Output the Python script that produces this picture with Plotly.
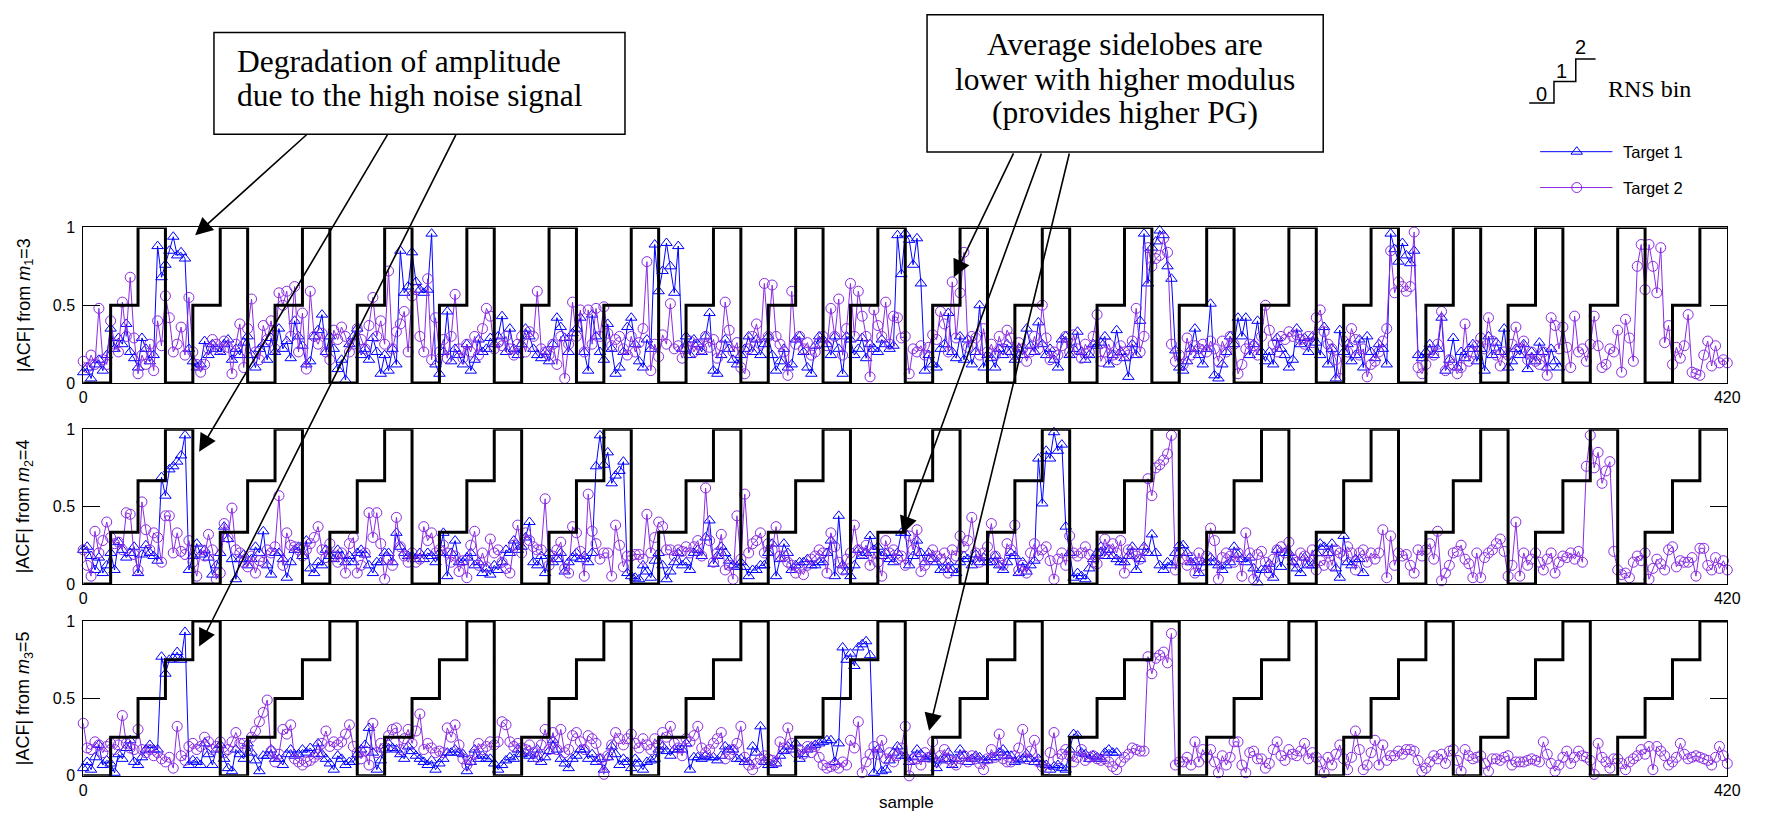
import plotly.graph_objects as go

# ---------------- data ----------------
sample_ticks = [0, 420]
sample_ticktext = ["0", "420"]
acf_ticks = [0, 0.5, 1]
acf_ticktext = ["0", "0.5", "1"]
bin_width = 7  # samples per RNS bin step
moduli = [3, 4, 5]

# RNS bin index per step (read from the staircase)
rns_bin_m1 = [0, 1, 2, 0, 1, 2, 0, 1, 2, 0, 1, 2, 0, 1, 2, 0, 1, 2, 0, 1, 2, 0, 1, 2, 0, 1, 2, 0, 1, 2,
              0, 1, 2, 0, 1, 2, 0, 1, 2, 0, 1, 2, 0, 1, 2, 0, 1, 2, 0, 1, 2, 0, 1, 2, 0, 1, 2, 0, 1, 2]
rns_bin_m2 = [0, 1, 2, 3, 0, 1, 2, 3, 0, 1, 2, 3, 0, 1, 2, 3, 0, 1, 2, 3, 0, 1, 2, 3, 0, 1, 2, 3, 0, 1,
              2, 3, 0, 1, 2, 3, 0, 1, 2, 3, 0, 1, 2, 3, 0, 1, 2, 3, 0, 1, 2, 3, 0, 1, 2, 3, 0, 1, 2, 3]
rns_bin_m3 = [0, 1, 2, 3, 4, 0, 1, 2, 3, 4, 0, 1, 2, 3, 4, 0, 1, 2, 3, 4, 0, 1, 2, 3, 4, 0, 1, 2, 3, 4,
              0, 1, 2, 3, 4, 0, 1, 2, 3, 4, 0, 1, 2, 3, 4, 0, 1, 2, 3, 4, 0, 1, 2, 3, 4, 0, 1, 2, 3, 4]

# |ACF| values in hundredths, one per sample starting at sample 0
acf_m1_target1 = [
    7, 10, 3, 12, 15, 8, 18, 35, 22, 29, 25, 38, 20, 16, 10, 29, 22, 14, 18, 88, 68,
    76, 85, 94, 82, 84, 80, 22, 14, 10, 12, 27, 18, 25, 22, 20, 25, 28, 15, 22, 18, 26,
    30, 18, 10, 22, 25, 15, 29, 20, 35, 22, 27, 16, 40, 30, 24, 12, 14, 30, 34, 44, 20,
    30, 22, 9, 15, 2, 25, 30, 35, 18, 22, 15, 29, 20, 6, 18, 8, 22, 12, 85, 58, 62,
    84, 65, 60, 58, 60, 96, 12, 6, 20, 46, 14, 22, 18, 12, 25, 8, 15, 28, 20, 22, 29,
    25, 30, 43, 20, 35, 22, 18, 25, 35, 30, 22, 18, 16, 20, 14, 25, 42, 36, 29, 20, 32,
    35, 42, 20, 8, 44, 30, 20, 15, 38, 22, 6, 10, 20, 36, 42, 25, 14, 10, 28, 22, 89,
    59, 72, 90, 75, 58, 88, 22, 30, 18, 28, 25, 20, 30, 45, 8, 6, 18, 28, 22, 15, 12,
    18, 22, 30, 20, 28, 18, 25, 30, 18, 8, 14, 22, 10, 12, 28, 30, 20, 10, 6, 24, 30,
    28, 25, 18, 30, 22, 6, 30, 28, 18, 22, 29, 16, 25, 22, 20, 28, 25, 22, 24, 95, 70,
    96, 92, 76, 93, 64, 8, 18, 12, 10, 22, 25, 45, 20, 16, 30, 15, 28, 12, 20, 50, 10,
    18, 16, 10, 22, 18, 25, 20, 15, 22, 18, 35, 24, 20, 39, 25, 18, 22, 15, 10, 28, 30,
    18, 22, 33, 20, 15, 18, 25, 24, 26, 30, 12, 18, 34, 20, 16, 4, 25, 18, 40, 96, 64,
    87, 91, 98, 95, 75, 67, 21, 10, 8, 14, 22, 35, 18, 12, 22, 51, 5, 3, 12, 20, 30,
    25, 42, 30, 42, 18, 25, 40, 20, 14, 20, 12, 29, 22, 18, 10, 15, 35, 25, 29, 20, 30,
    26, 18, 36, 12, 22, 3, 34, 20, 25, 14, 18, 28, 10, 30, 20, 16, 25, 22, 12, 96, 86,
    78, 90, 82, 77, 85, 18, 16, 20, 25, 18, 22, 42, 8, 15, 29, 10, 20, 16, 22, 25, 14,
    22, 8, 30, 18, 26, 20, 35, 10, 14, 22, 18, 25, 9, 20, 14, 26, 20, 10, 22, 14, 10,
]
acf_m1_target2 = [
    14, 10, 18, 12, 48, 15, 12, 40, 25, 20, 52, 30, 68, 29, 6, 18, 12, 25, 8, 40, 24,
    56, 42, 20, 25, 36, 18, 55, 20, 12, 7, 12, 22, 28, 25, 22, 27, 23, 6, 25, 38, 10,
    35, 54, 20, 15, 37, 28, 40, 22, 58, 50, 59, 30, 62, 20, 45, 9, 59, 30, 25, 32, 20,
    15, 34, 28, 36, 30, 20, 25, 35, 28, 22, 37, 55, 30, 40, 25, 72, 22, 33, 38, 46, 20,
    56, 60, 30, 20, 67, 15, 42, 20, 28, 16, 30, 57, 22, 16, 25, 20, 30, 18, 35, 48, 43,
    22, 26, 24, 30, 22, 18, 25, 30, 20, 33, 30, 59, 22, 20, 18, 25, 12, 30, 3, 25, 52,
    30, 47, 20, 47, 25, 48, 30, 49, 32, 24, 28, 30, 22, 18, 30, 20, 26, 35, 78, 8, 25,
    17, 31, 25, 51, 22, 24, 16, 22, 27, 20, 25, 22, 30, 23, 28, 16, 24, 52, 34, 20, 26,
    10, 6, 22, 30, 38, 25, 64, 30, 63, 30, 25, 20, 5, 59, 25, 30, 22, 26, 18, 20, 26,
    30, 24, 48, 30, 54, 18, 35, 64, 30, 59, 43, 30, 4, 47, 37, 30, 52, 25, 43, 42, 29,
    30, 6, 22, 20, 24, 18, 23, 31, 28, 46, 38, 20, 65, 29, 58, 84, 23, 30, 29, 18, 35,
    20, 25, 18, 30, 22, 34, 29, 18, 26, 22, 14, 20, 30, 22, 50, 29, 15, 20, 18, 24, 30,
    20, 31, 22, 16, 25, 20, 30, 44, 14, 20, 25, 18, 15, 24, 20, 18, 27, 48, 20, 30, 87,
    75, 80, 82, 93, 84, 25, 14, 18, 12, 29, 18, 24, 22, 25, 20, 27, 22, 14, 27, 20, 30,
    25, 6, 12, 22, 25, 24, 18, 30, 50, 34, 25, 20, 30, 28, 33, 30, 31, 28, 25, 30, 26,
    42, 47, 33, 25, 22, 15, 3, 27, 20, 35, 28, 18, 22, 4, 12, 14, 20, 27, 35, 85, 58,
    65, 62, 59, 62, 97, 10, 6, 12, 20, 18, 25, 46, 8, 15, 12, 6, 10, 38, 14, 20, 24,
    29, 22, 42, 27, 18, 11, 20, 18, 25, 36, 22, 27, 15, 20, 14, 12, 20, 5, 42, 37, 22,
    36, 23, 10, 43, 20, 22, 14, 25, 43, 24, 10, 12, 22, 20, 34, 7, 41, 29, 14, 75, 89,
    60, 89, 75, 58, 87, 26, 37, 12, 23, 16, 24, 44, 7, 6, 5, 18, 27, 11, 24, 13, 15,
    13,
]
acf_m2_target1 = [
    22, 24, 18, 9, 17, 7, 12, 20, 9, 27, 22, 17, 20, 24, 7, 19, 25, 20, 18, 15, 69,
    57, 74, 76, 79, 83, 96, 9, 18, 26, 19, 22, 17, 6, 12, 20, 37, 29, 16, 3, 16, 19,
    12, 16, 24, 20, 34, 12, 6, 20, 20, 16, 4, 14, 22, 24, 18, 28, 10, 7, 14, 12, 22,
    18, 16, 22, 18, 14, 18, 14, 20, 22, 19, 12, 7, 14, 14, 20, 20, 14, 33, 24, 20, 18,
    18, 16, 20, 16, 20, 18, 14, 20, 33, 5, 20, 28, 14, 14, 17, 20, 12, 14, 7, 10, 6,
    12, 9, 14, 22, 20, 28, 22, 24, 30, 40, 14, 12, 18, 7, 20, 14, 16, 20, 8, 14, 17,
    20, 16, 18, 14, 20, 76, 96, 77, 85, 65, 70, 73, 79, 7, 5, 4, 3, 12, 8, 4, 15,
    20, 12, 3, 8, 14, 20, 12, 14, 9, 20, 22, 18, 30, 41, 13, 18, 24, 20, 15, 12, 11,
    14, 11, 5, 9, 9, 12, 12, 20, 26, 5, 16, 26, 20, 9, 12, 14, 14, 16, 12, 12, 14,
    14, 20, 28, 5, 44, 12, 8, 5, 12, 22, 18, 20, 31, 22, 24, 18, 20, 16, 14, 20, 33,
    33, 12, 18, 28, 20, 14, 20, 16, 14, 9, 9, 14, 9, 7, 14, 18, 16, 12, 19, 14, 17,
    14, 14, 18, 12, 9, 14, 20, 18, 7, 14, 8, 12, 15, 81, 52, 86, 81, 98, 86, 90, 37,
    20, 4, 7, 5, 3, 10, 16, 20, 24, 18, 22, 18, 16, 14, 14, 18, 24, 9, 16, 24, 20,
    32, 20, 12, 9, 14, 12, 20, 25, 25, 20, 14, 14, 7, 14, 14, 17, 14, 12, 9, 12, 14,
    24, 19, 16, 14, 17, 10, 1, 9, 9, 13, 4, 22, 11, 20, 20, 14, 10, 7, 17, 12, 12,
    20, 26, 24, 20, 26, 10, 4, 31, 14, 12, 16, 16, 7,
]
acf_m2_target2 = [
    22, 12, 5, 34, 20, 28, 40, 30, 26, 27, 22, 46, 45, 19, 9, 53, 35, 22, 33, 30, 14,
    44, 44, 20, 33, 21, 19, 28, 14, 5, 22, 18, 32, 22, 3, 7, 39, 30, 49, 22, 20, 14,
    11, 18, 7, 15, 14, 22, 20, 24, 57, 12, 33, 25, 24, 22, 18, 22, 26, 30, 37, 22, 17,
    26, 18, 14, 20, 7, 26, 30, 7, 12, 20, 46, 30, 46, 26, 3, 16, 12, 43, 24, 18, 14,
    20, 14, 16, 37, 28, 33, 20, 22, 25, 20, 14, 18, 8, 15, 4, 25, 34, 12, 20, 11, 29,
    20, 22, 14, 10, 7, 25, 38, 20, 33, 28, 24, 22, 22, 55, 12, 18, 22, 27, 10, 7, 37,
    33, 21, 5, 58, 34, 26, 16, 20, 20, 5, 38, 25, 11, 18, 18, 19, 19, 16, 45, 20, 30,
    40, 37, 22, 22, 18, 22, 21, 24, 20, 24, 28, 18, 62, 28, 14, 20, 32, 9, 12, 3, 44,
    16, 58, 20, 26, 28, 33, 20, 26, 22, 37, 18, 18, 14, 12, 7, 10, 6, 12, 16, 18, 22,
    20, 7, 33, 24, 14, 9, 16, 20, 38, 22, 20, 25, 12, 20, 14, 5, 28, 20, 22, 16, 18,
    12, 31, 22, 35, 8, 12, 16, 22, 18, 16, 20, 7, 22, 18, 31, 24, 28, 43, 20, 14, 20,
    24, 39, 18, 14, 12, 26, 22, 38, 9, 12, 7, 20, 26, 18, 22, 24, 15, 3, 16, 20, 12,
    31, 20, 18, 20, 24, 19, 14, 13, 20, 29, 22, 26, 20, 28, 7, 22, 20, 18, 16, 22, 68,
    57, 75, 77, 80, 84, 96, 9, 20, 16, 12, 17, 7, 20, 12, 18, 36, 28, 3, 17, 20, 18,
    14, 20, 5, 33, 20, 3, 19, 21, 14, 7, 16, 22, 24, 20, 27, 16, 14, 20, 18, 14, 22,
    9, 15, 12, 20, 12, 22, 20, 18, 24, 20, 9, 20, 22, 14, 20, 16, 20, 35, 4, 31, 12,
    20, 18, 19, 12, 7, 22, 18, 22, 26, 16, 34, 2, 7, 12, 20, 21, 25, 16, 13, 4, 20,
    4, 17, 20, 22, 26, 29, 21, 5, 12, 40, 5, 20, 12, 16, 20, 14, 9, 16, 20, 7, 14,
    18, 17, 20, 16, 21, 14, 76, 96, 75, 85, 65, 73, 79, 21, 9, 6, 7, 4, 14, 18, 15,
    20, 3, 10, 16, 13, 9, 22, 24, 11, 15, 14, 14, 17, 5, 23, 23, 12, 9, 17, 10, 15,
    9,
]
acf_m3_target1 = [
    5, 9, 4, 12, 20, 7, 10, 8, 2, 14, 11, 18, 23, 9, 7, 12, 17, 20, 17, 17, 77,
    66, 75, 76, 80, 75, 93, 7, 10, 9, 7, 21, 14, 7, 17, 20, 11, 5, 3, 17, 14, 11,
    21, 15, 10, 3, 13, 13, 17, 11, 11, 7, 14, 17, 13, 14, 17, 15, 18, 14, 21, 14, 11,
    8, 4, 13, 11, 7, 9, 9, 14, 17, 20, 31, 15, 4, 10, 17, 21, 18, 17, 14, 11, 19,
    16, 13, 11, 9, 7, 10, 4, 8, 11, 15, 15, 17, 15, 14, 3, 9, 17, 11, 13, 11, 11,
    8, 4, 7, 10, 12, 11, 17, 14, 15, 13, 11, 17, 9, 12, 16, 23, 17, 11, 8, 5, 11,
    13, 17, 17, 11, 14, 9, 11, 4, 12, 19, 14, 7, 11, 9, 5, 11, 8, 4, 9, 10, 11,
    17, 19, 16, 13, 17, 17, 17, 21, 4, 12, 12, 11, 13, 12, 12, 10, 13, 19, 17, 17, 11,
    11, 9, 9, 19, 15, 32, 9, 7, 7, 8, 13, 16, 19, 17, 21, 11, 14, 17, 19, 20, 21,
    22, 23, 23, 9, 21, 83, 75, 79, 71, 83, 85, 87, 78, 2, 17, 3, 4, 10, 15, 19, 13,
    13, 9, 12, 17, 14, 11, 12, 13, 5, 10, 11, 15, 7, 11, 17, 13, 9, 11, 13, 12, 10,
    10, 12, 12, 15, 17, 13, 13, 9, 10, 11, 14, 11, 9, 11, 8, 7, 4, 6, 7, 5, 4,
    17, 27, 26, 15, 14, 11, 13, 12, 11, 15, 17, 15, 15,
]
acf_m3_target2 = [
    34, 18, 17, 22, 20, 15, 19, 21, 17, 20, 39, 21, 18, 17, 30, 17, 15, 17, 13, 15, 11,
    9, 12, 5, 32, 13, 10, 19, 21, 17, 19, 25, 22, 17, 19, 22, 15, 17, 22, 28, 21, 21,
    17, 25, 29, 35, 41, 49, 16, 9, 14, 30, 27, 33, 11, 9, 7, 9, 10, 12, 14, 21, 29,
    19, 22, 20, 22, 27, 33, 19, 15, 11, 16, 7, 34, 15, 21, 18, 26, 30, 31, 17, 24, 30,
    21, 29, 40, 17, 21, 18, 15, 16, 15, 31, 25, 33, 20, 11, 7, 10, 14, 21, 17, 19, 22,
    20, 22, 35, 33, 22, 19, 21, 18, 17, 20, 15, 12, 20, 30, 17, 28, 17, 30, 15, 17, 26,
    28, 22, 17, 26, 24, 21, 11, 1, 13, 20, 28, 24, 20, 24, 27, 21, 18, 24, 20, 17, 24,
    20, 28, 25, 32, 21, 18, 13, 24, 22, 26, 32, 18, 15, 17, 21, 24, 28, 11, 14, 17, 21,
    32, 12, 7, 4, 8, 11, 13, 11, 10, 9, 22, 18, 31, 21, 15, 17, 14, 19, 15, 19, 12,
    7, 5, 6, 7, 5, 9, 7, 23, 18, 35, 2, 9, 14, 19, 14, 23, 11, 15, 9, 13, 18,
    32, 0, 11, 11, 7, 15, 12, 22, 9, 13, 17, 11, 9, 7, 11, 13, 9, 13, 11, 8, 4,
    11, 17, 12, 27, 11, 9, 9, 13, 18, 30, 11, 16, 23, 9, 6, 4, 15, 28, 11, 14, 17,
    13, 9, 12, 17, 10, 12, 13, 11, 10, 11, 9, 6, 4, 9, 12, 14, 18, 17, 16, 16, 77,
    66, 76, 78, 80, 73, 92, 7, 9, 9, 12, 7, 22, 9, 17, 12, 17, 9, 2, 13, 7, 12,
    22, 22, 7, 2, 15, 16, 11, 11, 5, 8, 17, 22, 13, 10, 17, 14, 13, 16, 21, 11, 15,
    12, 9, 2, 12, 7, 14, 20, 11, 4, 12, 29, 17, 4, 7, 15, 23, 7, 20, 10, 13, 13,
    16, 14, 17, 17, 16, 10, 3, 5, 9, 13, 11, 14, 8, 16, 17, 10, 3, 17, 13, 11, 12,
    13, 8, 3, 11, 11, 10, 12, 13, 7, 9, 9, 9, 10, 11, 10, 9, 22, 14, 8, 3, 7,
    12, 16, 8, 12, 16, 13, 12, 10, 1, 21, 12, 9, 5, 11, 11, 8, 4, 9, 11, 13, 17,
    14, 19, 4, 19, 16, 13, 7, 9, 12, 21, 14, 11, 12, 13, 12, 11, 10, 7, 12, 19, 13,
    8,
]

y_titles = ["|ACF| from <i>m</i><sub>1</sub>=3",
            "|ACF| from <i>m</i><sub>2</sub>=4",
            "|ACF| from <i>m</i><sub>3</sub>=5"]
legend_names = ["Target 1", "Target 2"]
note_left = ["Degradation of amplitude", "due to the high noise signal"]
note_right = ["Average sidelobes are", "lower with higher modulus", "(provides higher PG)"]
rns_labels = ["0", "1", "2"]

# ---------------- styling / layout ----------------
W, H = 1771, 826
BLUE = "#0000ff"
PURPLE = "#8a2be2"
SANS = "Liberation Sans, Arial, sans-serif"
SERIF = "Liberation Serif, Times New Roman, serif"

x_left, x_right = 80, 1740
panel_px = [(224, 383), (430, 588), (626, 784)]  # (top, bottom) in pixels


def ydom(top, bottom):
    return [(H - bottom) / H, (H - top) / H]


panels = [
    (acf_m1_target1, acf_m1_target2, rns_bin_m1, moduli[0]),
    (acf_m2_target1, acf_m2_target2, rns_bin_m2, moduli[1]),
    (acf_m3_target1, acf_m3_target2, rns_bin_m3, moduli[2]),
]

fig = go.Figure()
layout_axes = {}
for i, (t1, t2, bins, m) in enumerate(panels):
    sfx = "" if i == 0 else str(i + 1)
    xa, ya = "x" + sfx, "y" + sfx
    fig.add_trace(go.Scatter(
        x=list(range(len(t1))), y=[v / 100 for v in t1], mode="lines+markers",
        line=dict(color=BLUE, width=1),
        marker=dict(symbol="triangle-up-open", size=10, color=BLUE, line=dict(width=1)),
        xaxis=xa, yaxis=ya, cliponaxis=False, showlegend=False, name=legend_names[0]))
    fig.add_trace(go.Scatter(
        x=list(range(len(t2))), y=[v / 100 for v in t2], mode="lines+markers",
        line=dict(color=PURPLE, width=1),
        marker=dict(symbol="circle-open", size=10, color=PURPLE, line=dict(width=1)),
        xaxis=xa, yaxis=ya, cliponaxis=False, showlegend=False, name=legend_names[1]))
    edges = [k * bin_width for k in range(len(bins) + 1)]
    levels = [b / (m - 1) for b in bins] + [bins[-1] / (m - 1)]
    fig.add_trace(go.Scatter(
        x=edges, y=levels, mode="lines", line=dict(color="black", width=3, shape="hv"),
        xaxis=xa, yaxis=ya, showlegend=False, hoverinfo="skip"))

    top, bottom = panel_px[i]
    layout_axes["xaxis" + sfx] = dict(
        domain=[x_left / W, x_right / W], range=[0, 420], anchor=ya,
        showgrid=False, zeroline=False, showline=True, mirror="ticks",
        linecolor="black", linewidth=1, ticks="inside", ticklen=8, tickcolor="black",
        tickvals=sample_ticks, ticktext=sample_ticktext,
        tickfont=dict(family=SANS, size=16, color="black"))
    layout_axes["yaxis" + sfx] = dict(
        domain=ydom(top, bottom), range=[0, 1], anchor=xa,
        showgrid=False, zeroline=False, showline=True, mirror="ticks",
        linecolor="black", linewidth=1, ticks="inside", ticklen=17, tickcolor="black",
        tickvals=acf_ticks, ticktext=acf_ticktext, ticklabelstandoff=4,
        tickfont=dict(family=SANS, size=16, color="black"))

# overlay axis in page pixel coordinates for decorations
layout_axes["xaxis4"] = dict(domain=[0, 1], range=[0, W], visible=False, anchor="y4", fixedrange=True)
layout_axes["yaxis4"] = dict(domain=[0, 1], range=[H, 0], visible=False, anchor="x4", fixedrange=True)

# legend samples
leg_y = [146.7, 183.3]
leg_sym = ["triangle-up-open", "circle-open"]
leg_col = [BLUE, PURPLE]
for k in range(2):
    fig.add_trace(go.Scatter(x=[1551, 1624], y=[leg_y[k], leg_y[k]], mode="lines",
                             line=dict(color=leg_col[k], width=1), xaxis="x4", yaxis="y4",
                             showlegend=False, hoverinfo="skip"))
    fig.add_trace(go.Scatter(x=[1588], y=[leg_y[k]], mode="markers",
                             marker=dict(symbol=leg_sym[k], size=10, color=leg_col[k], line=dict(width=1)),
                             xaxis="x4", yaxis="y4", showlegend=False, hoverinfo="skip"))
# RNS bin icon
fig.add_trace(go.Scatter(x=[1540, 1565, 1565, 1587, 1587, 1607], y=[97, 97, 75, 75, 52, 52],
                         mode="lines", line=dict(color="black", width=1.5),
                         xaxis="x4", yaxis="y4", showlegend=False, hoverinfo="skip"))

annotations = []


def txt(x, y, text, size, family=SANS, xanchor="center", angle=0):
    annotations.append(dict(x=x, y=y, xref="x4", yref="y4", text=text, showarrow=False,
                            xanchor=xanchor, yanchor="middle", textangle=angle,
                            font=dict(family=family, size=size, color="black")))


for k, (lx, ly) in enumerate([(1552, 88), (1573, 64), (1592, 40)]):
    txt(lx, ly, rns_labels[k], 20)
txt(1661, 83, "RNS bin", 24, family=SERIF)
for k in range(2):
    txt(1633, leg_y[k], legend_names[k], 16.5, xanchor="left")

for i, (top, bottom) in enumerate(panel_px):
    txt(21, (top + bottom) / 2, y_titles[i], 18, angle=-90)
txt(911, 811, "sample", 17)

for k, yy in enumerate([55, 89]):
    txt(233, yy, note_left[k], 31.5, family=SERIF, xanchor="left")
for k, yy in enumerate([37.5, 72.5, 106.5]):
    txt(1132, yy, note_right[k], 31.5, family=SERIF)

arrows = [((307, 128), (193, 232)), ((388, 128), (197, 453)), ((457, 128), (197, 652)),
          ((1020, 147), (959, 275)), ((1048, 147), (907, 537)), ((1076, 147), (934, 738))]
for (tx, ty), (hx, hy) in arrows:
    annotations.append(dict(x=hx, y=hy, xref="x4", yref="y4", ax=tx, ay=ty, axref="x4", ayref="y4",
                            text="", showarrow=True, arrowhead=2, arrowsize=2.2, arrowwidth=1.6,
                            arrowcolor="black", standoff=0, startstandoff=0))

shapes = [
    dict(type="rect", xref="x4", yref="y4", x0=212, y0=25, x1=627, y1=129,
         line=dict(color="black", width=1.5), fillcolor="white"),
    dict(type="rect", xref="x4", yref="y4", x0=932, y0=7, x1=1332, y1=147,
         line=dict(color="black", width=1.5), fillcolor="white"),
]

fig.update_layout(
    width=W, height=H, margin=dict(l=0, r=0, t=0, b=0, pad=0),
    paper_bgcolor="white", plot_bgcolor="rgba(0,0,0,0)",
    showlegend=False, annotations=annotations, shapes=shapes, **layout_axes)

fig.write_html("out.html")
